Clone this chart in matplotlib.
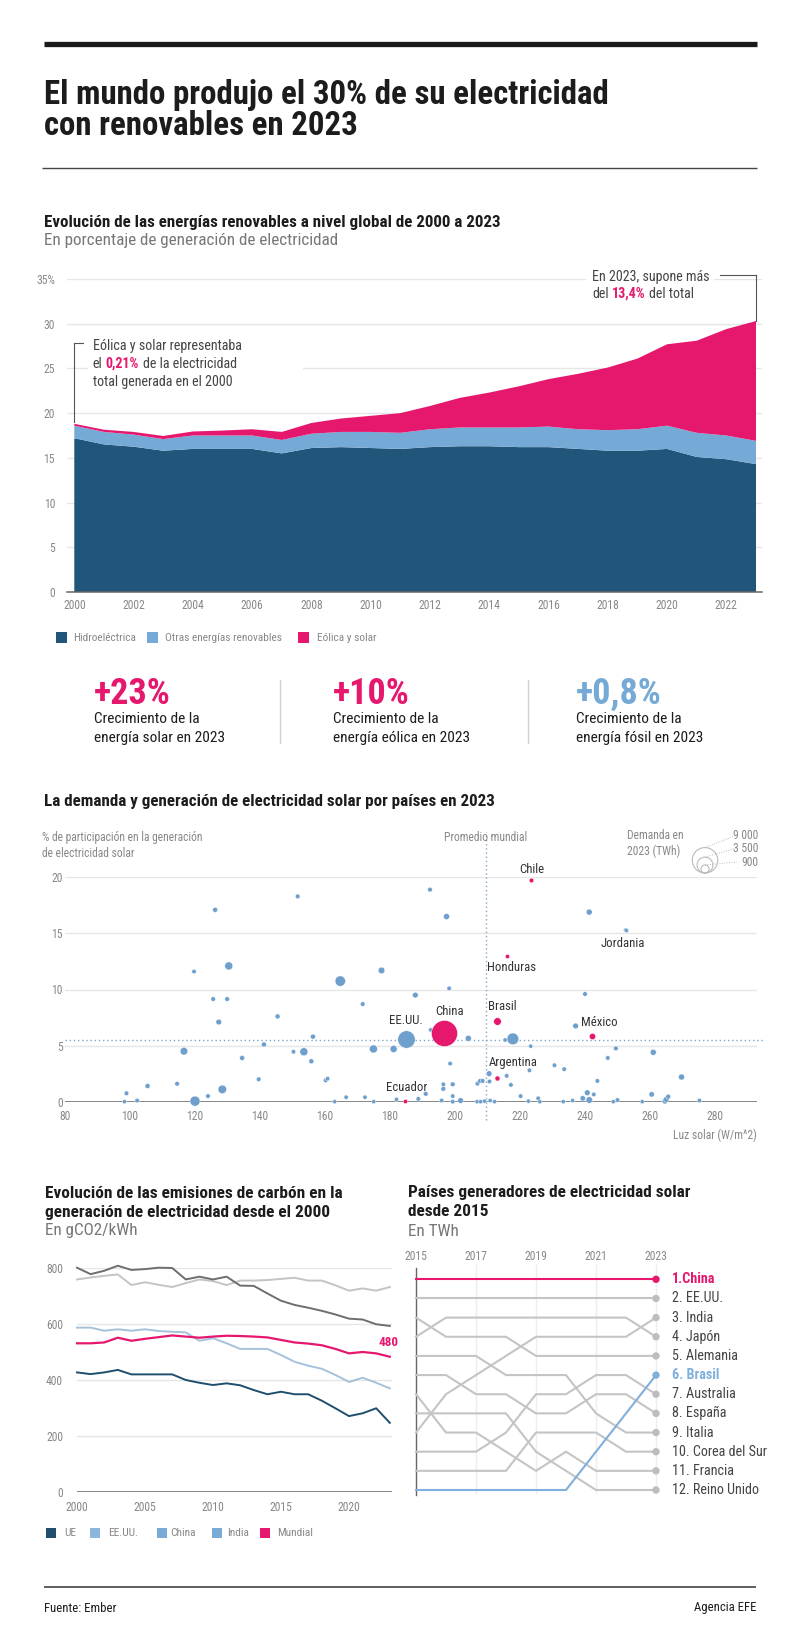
import matplotlib
matplotlib.use('Agg')
import matplotlib.pyplot as plt
from matplotlib import font_manager as fm
from matplotlib.patches import Rectangle, Circle
import numpy as np

# ---------------- DATA ----------------
years = list(range(2000, 2024))
hydro = [17.2, 16.5, 16.25, 15.8, 16.0, 16.0, 16.0, 15.5, 16.1, 16.2, 16.1, 16.0,
         16.2, 16.3, 16.3, 16.2, 16.2, 16.0, 15.8, 15.8, 16.0, 15.1, 14.85, 14.3]
other_renewables = [1.4, 1.4, 1.35, 1.3, 1.5, 1.5, 1.5, 1.5, 1.6, 1.7, 1.8, 1.8,
                    2.0, 2.1, 2.1, 2.2, 2.3, 2.2, 2.3, 2.4, 2.6, 2.7, 2.65, 2.6]
wind_solar = [0.21, 0.25, 0.3, 0.35, 0.45, 0.55, 0.7, 0.9, 1.2, 1.5, 1.8, 2.2,
              2.6, 3.3, 3.9, 4.6, 5.3, 6.2, 7.0, 7.9, 9.1, 10.3, 11.9, 13.4]
area_labels = ['Hidroeléctrica', 'Otras energías renovables', 'Eólica y solar']

stat_values = ['+23%', '+10%', '+0,8%']
stat_text = [('Crecimiento de la', 'energía solar en 2023'),
             ('Crecimiento de la', 'energía eólica en 2023'),
             ('Crecimiento de la', 'energía fósil en 2023')]

# scatter: sunlight (W/m^2), solar share (%), demand (TWh)
sun_light = [151.6, 126.2, 130.4, 119.7, 164.7, 177.4, 125.6, 129.9, 171.6, 145.4, 127.3,
             156.3, 141.2, 116.6, 153.5, 150.3, 174.9, 181.1, 134.5, 155.8, 139.6, 114.5,
             105.4, 98.9, 128.4, 124.0, 120.0, 102.2, 98.3, 160.2, 160.8, 166.5, 172.3,
             163.0, 175.0, 182.0,
             192.3, 197.4, 241.3, 252.5, 198.2, 187.8, 240.0, 237.1, 192.5, 204.1, 217.8,
             215.4, 223.3, 249.5, 261.0, 247.0, 198.5, 230.6, 233.6, 222.9, 210.5, 215.9,
             206.9, 207.7, 208.5, 210.6, 217.2, 196.4, 196.4, 199.3, 191.0, 188.7, 195.9,
             199.3, 199.3, 201.7, 206.8, 207.9, 209.1, 210.8, 212.2, 220.2, 222.6, 225.6,
             226.1, 233.3, 236.2, 239.3, 240.7, 241.3, 242.7, 243.8, 248.7, 250.0, 257.6,
             260.5, 264.6, 265.0, 265.6, 269.7, 275.2]
solar_share = [18.3, 17.1, 12.1, 11.6, 10.75, 11.7, 9.15, 9.15, 8.7, 7.6, 7.1,
               5.8, 5.1, 4.5, 4.45, 4.45, 4.7, 4.7, 3.9, 3.6, 2.0, 1.6,
               1.4, 0.75, 1.1, 0.5, 0.05, 0.1, 0.0, 1.9, 2.05, 0.4, 0.4,
               0.0, 0.0, 0.2,
               18.9, 16.5, 16.9, 15.3, 10.1, 9.5, 9.6, 6.75, 6.4, 5.65, 5.6,
               5.5, 4.95, 4.75, 4.4, 3.9, 3.4, 3.25, 2.9, 2.8, 2.5, 2.3,
               1.6, 1.85, 1.85, 1.8, 1.5, 1.55, 1.15, 1.55, 0.7, 0.25, 0.1,
               0.5, 0.0, 0.1, 0.0, 0.0, 0.05, 0.1, 0.0, 0.5, 0.05, 0.3,
               0.0, 0.0, 0.1, 0.3, 0.8, 0.15, 0.65, 1.85, 0.0, 0.15, 0.0,
               0.65, 0.05, 0.2, 0.45, 2.2, 0.1]
demand = [300, 350, 900, 280, 1500, 600, 300, 300, 300, 350, 450,
          350, 350, 800, 900, 280, 900, 700, 350, 350, 300, 300,
          350, 300, 1000, 280, 1400, 280, 250, 280, 280, 260, 260,
          250, 250, 260,
          300, 500, 500, 250, 280, 450, 300, 450, 250, 500, 1900,
          250, 250, 300, 500, 280, 280, 280, 280, 280, 450, 280,
          280, 300, 300, 280, 280, 280, 320, 320, 300, 280, 280,
          280, 280, 450, 250, 250, 250, 250, 250, 280, 250, 280,
          250, 250, 250, 400, 450, 600, 280, 280, 250, 280, 250,
          400, 450, 450, 320, 500, 280]
hl_names = ['EE.UU.', 'China', 'Chile', 'Honduras', 'Brasil', 'México', 'Argentina', 'Ecuador', 'Jordania']
hl_sun = [184.9, 196.7, 223.3, 215.9, 212.8, 242.1, 213.0, 184.6, 252.5]
hl_share = [5.55, 6.15, 19.75, 13.0, 7.2, 5.9, 2.1, 0.05, 15.3]
hl_demand = [4200, 9400, 300, 250, 800, 550, 350, 260, 250]
hl_pink = [False, True, True, True, True, True, True, True, False]
world_sun = 209.5
world_share = 5.5
size_legend = [9000, 3500, 900]

emis_years = list(range(2000, 2024))
emis_china = [800, 777, 789, 807, 792, 795, 800, 799, 758, 768, 758, 768,
              736, 735, 708, 682, 667, 657, 646, 633, 618, 615, 598, 592]
emis_india = [758, 765, 771, 776, 738, 748, 739, 731, 745, 758, 752, 738,
              754, 754, 756, 760, 764, 754, 754, 737, 718, 726, 718, 731]
emis_us = [586, 586, 575, 580, 575, 580, 574, 571, 569, 539, 548, 530,
           510, 510, 510, 488, 464, 450, 439, 417, 392, 407, 389, 369]
emis_world = [530, 530, 533, 550, 539, 546, 552, 558, 554, 550, 554, 557,
              556, 554, 551, 542, 533, 529, 523, 510, 494, 499, 494, 482]
emis_ue = [426, 420, 426, 435, 419, 419, 419, 419, 399, 389, 381, 387,
           380, 363, 348, 357, 348, 348, 325, 298, 270, 280, 298, 246]
emis_legend = ['UE', 'EE.UU.', 'China', 'India', 'Mundial']

rank_years = list(range(2015, 2024))
rank_countries = ['China', 'EE.UU.', 'India', 'Japón', 'Alemania', 'Brasil', 'Australia',
                  'España', 'Italia', 'Corea del Sur', 'Francia', 'Reino Unido']
rank_china = [1, 1, 1, 1, 1, 1, 1, 1, 1]
rank_us = [2, 2, 2, 2, 2, 2, 2, 2, 2]
rank_india = [9, 7, 6, 5, 4, 4, 4, 4, 3]
rank_japan = [4, 3, 3, 3, 3, 3, 3, 3, 4]
rank_germany = [3, 4, 4, 4, 5, 5, 5, 5, 5]
rank_brazil = [12, 12, 12, 12, 12, 12, 10, 8, 6]
rank_australia = [10, 10, 10, 9, 7, 7, 6, 6, 7]
rank_spain = [6, 6, 7, 7, 8, 8, 7, 7, 8]
rank_italy = [5, 5, 5, 6, 6, 6, 8, 9, 9]
rank_korea = [11, 11, 11, 11, 9, 9, 9, 10, 10]
rank_france = [7, 9, 9, 10, 11, 10, 11, 11, 11]
rank_uk = [8, 8, 8, 8, 10, 11, 12, 12, 12]

# ---------------- STYLE ----------------
names = {f.name for f in fm.fontManager.ttflist}
FONT = 'Liberation Sans'
for cand in ['Roboto Condensed', 'Liberation Sans Narrow', 'Archivo Narrow', 'Asap Condensed']:
    if cand in names:
        FONT = cand
        break
plt.rcParams['font.family'] = [FONT, 'DejaVu Sans']

C_HYDRO = '#21567a'
C_OTHER = '#76aad6'
PINK = '#e5186e'
BLUE = '#76aad6'
DARK = '#1c1c1c'
TXT = '#333333'
GRAY = '#888888'
GRID = '#e6e6e6'

W, H = 800, 1646
fig = plt.figure(figsize=(W / 100, H / 100), dpi=100)
fig.patch.set_facecolor('white')
R = fig.canvas.get_renderer()

ov = fig.add_axes([0, 0, 1, 1], zorder=20)
ov.set_xlim(0, W)
ov.set_ylim(H, 0)
ov.axis('off')


def add_ax(l, t, r, b):
    return fig.add_axes([l / W, 1 - b / H, (r - l) / W, (b - t) / H])


def fit(s, w, weight='normal'):
    t = ov.text(0, 0, s, fontsize=10, fontweight=weight)
    bw = t.get_window_extent(R).width
    t.remove()
    return 10.0 * w / bw


def T(x, y, s, size, color=TXT, weight='normal', ha='left', va='center', **kw):
    return ov.text(x, y, s, fontsize=size, color=color, fontweight=weight,
                   ha=ha, va=va, **kw)


def rich(x, y, parts, size):
    s, c, w = parts[0]
    t = T(x, y, s, size, c, w)
    gap = 0.24 * size / 0.72
    for s, c, w in parts[1:]:
        t = ov.annotate(s, xy=(1, 0), xycoords=t, xytext=(gap, 0),
                        textcoords='offset pixels', fontsize=size, color=c,
                        fontweight=w, va='bottom', ha='left')
    return t


def hline(x0, x1, y, color, lw):
    ov.plot([x0, x1], [y, y], color=color, lw=lw, solid_capstyle='butt')


# ---------------- HEADER ----------------
hline(44, 757, 44, '#1a1a1a', 3.8)
TS = fit('El mundo produjo el 30% de su electricidad', 566, 'bold')
T(44, 95, 'El mundo produjo el 30% de su electricidad', TS, DARK, 'bold')
T(44, 126, 'con renovables en 2023', TS, DARK, 'bold')
hline(42, 757, 168, '#444444', 1.0)

S1 = fit('Evolución de las energías renovables a nivel global de 2000 a 2023', 457, 'bold')
T(44, 222, 'Evolución de las energías renovables a nivel global de 2000 a 2023', S1, DARK, 'bold')
SUB = fit('En porcentaje de generación de electricidad', 293)
T(44, 240, 'En porcentaje de generación de electricidad', SUB, '#777777')

TICK = fit('2000', 22.7)

# ---------------- AREA CHART ----------------
ax1 = add_ax(67, 279, 762, 592)
ax1.stackplot(years, hydro, other_renewables, wind_solar,
              colors=[C_HYDRO, C_OTHER, PINK], lw=0, zorder=2)
ax1.set_xlim(2000 - 7.3 / 29.64, 2023 + 6 / 29.64)
ax1.set_ylim(0, 35)
yt = list(range(0, 36, 5))
ax1.set_yticks(yt)
ax1.set_yticklabels([str(v) if v < 35 else f'{v}%' for v in yt])
ax1.set_xticks(list(range(2000, 2023, 2)))
ax1.yaxis.grid(True, color=GRID, lw=1)
ax1.set_axisbelow(True)
for sp in ['left', 'right', 'top']:
    ax1.spines[sp].set_visible(False)
ax1.spines['bottom'].set_color('#666666')
ax1.spines['bottom'].set_linewidth(1.1)
ax1.spines['bottom'].set_zorder(5)
ax1.tick_params(axis='both', length=0, labelsize=TICK, labelcolor=GRAY)
ax1.tick_params(axis='x', pad=4.7)
ax1.tick_params(axis='y', pad=8.6)

total = np.array(hydro) + np.array(other_renewables) + np.array(wind_solar)
ax1.plot([years[0], years[0]], [total[0] + 0.2, 27.8], color='#555555', lw=0.8, clip_on=False, zorder=6)
ax1.plot([years[0], years[0] + 0.3], [27.8, 27.8], color='#555555', lw=0.8, clip_on=False, zorder=6)
ax1.plot([years[-1], years[-1]], [total[-1], 35.45], color='#555555', lw=0.8, clip_on=False, zorder=6)
ax1.plot([2021.8, years[-1]], [35.45, 35.45], color='#555555', lw=0.8, clip_on=False, zorder=6)

ANN = fit('Eólica y solar representaba', 149)
ov.add_patch(Rectangle((88, 335), 215, 56, fc='white', ec='none', zorder=1))
ov.add_patch(Rectangle((586, 266), 128, 37, fc='white', ec='none', zorder=1))
T(92.7, 346, 'Eólica y solar representaba', ANN, '#444444')
rich(92.7, 364, [('el', '#444444', 'normal'), ('0,21%', PINK, 'bold'),
                 ('de la electricidad', '#444444', 'normal')], ANN)
T(92.7, 381.5, 'total generada en el 2000', ANN, '#444444')
T(592, 277, 'En 2023, supone más', ANN, '#444444')
rich(592, 294, [('del', '#444444', 'normal'), ('13,4%', PINK, 'bold'),
                ('del total', '#444444', 'normal')], ANN)

LEG = fit('Hidroeléctrica', 63)
for (sx, tx), lab, col in zip([(56, 73), (147, 165), (298, 317)], area_labels,
                              [C_HYDRO, C_OTHER, PINK]):
    ov.add_patch(Rectangle((sx, 632), 11, 11, fc=col, ec='none'))
    T(tx, 637.5, lab, LEG, GRAY)

# ---------------- STATS ----------------
BIG = fit('+23%', 77, 'bold')
ST = fit('energía solar en 2023', 130)
for x0, val, (l1, l2), col in zip([94, 333, 576], stat_values, stat_text, [PINK, PINK, BLUE]):
    T(x0, 694, val, BIG, col, 'bold')
    T(x0, 719, l1, ST, DARK)
    T(x0, 738, l2, ST, DARK)
for xd in [280, 527.6]:
    ov.plot([xd, xd], [680, 743], color='#d0d0d0', lw=1)

# ---------------- SCATTER ----------------
S2 = fit('La demanda y generación de electricidad solar por países en 2023', 452, 'bold')
T(44, 801, 'La demanda y generación de electricidad solar por países en 2023', S2, DARK, 'bold')

K = 0.134


def msize(d):
    r = K * np.sqrt(np.asarray(d, dtype=float))
    return (2 * r * 0.72) ** 2


ax2 = add_ax(65, 877.3, 757, 1101.7)
ax2.set_xlim(80, 80 + 692 / 3.25)
ax2.set_ylim(0, 20)
ax2.set_xticks(list(range(80, 281, 20)))
ax2.set_yticks(list(range(0, 21, 5)))
ax2.yaxis.grid(True, color=GRID, lw=1)
ax2.set_axisbelow(True)
for sp in ax2.spines.values():
    sp.set_visible(False)
ax2.tick_params(axis='both', length=0, labelsize=TICK, labelcolor=GRAY)
ax2.tick_params(axis='x', pad=5.8)
ax2.tick_params(axis='y', pad=1.5)
ax2.axhline(0, color='#666666', lw=1.1, zorder=1)
ax2.axvline(world_sun, ymin=-0.08, ymax=1.2, color='#7fa6c9', lw=1, ls=(0, (1, 2)), clip_on=False, zorder=1)
ax2.axhline(world_share, xmin=0, xmax=1.01, color='#7fa6c9', lw=1, ls=(0, (1, 2)), clip_on=False, zorder=1)
ax2.scatter(sun_light, solar_share, s=msize(demand), color='#6e9fcd', edgecolors='white',
            linewidths=0.3, clip_on=False, zorder=3)
for nm, xs, ys, dd, pk in zip(hl_names, hl_sun, hl_share, hl_demand, hl_pink):
    ax2.scatter([xs], [ys], s=msize([dd]), color=PINK if pk else '#6e9fcd',
                edgecolors='white', linewidths=0.3, clip_on=False, zorder=4)

LBL = fit('Honduras', 49)
lab_off = {'Chile': (1, 11, 'center'), 'Jordania': (-3, -13, 'center'),
           'Honduras': (-20, -12, 'left'), 'Brasil': (-9, 14, 'left'),
           'China': (5, 21, 'center'), 'EE.UU.': (0, 19, 'center'),
           'México': (-11, 13.5, 'left'), 'Argentina': (-8, 16, 'left'),
           'Ecuador': (-19, 14, 'left')}
for nm, xs, ys in zip(hl_names, hl_sun, hl_share):
    dx, dy, ha = lab_off[nm]
    ax2.annotate(nm, xy=(xs, ys), xytext=(dx, dy), textcoords='offset pixels',
                 ha=ha, va='center', fontsize=LBL, color='#333333', zorder=6)

SM = fit('Promedio mundial', 83)
T(42, 837, '% de participación en la generación', SM, GRAY)
T(42, 853, 'de electricidad solar', SM, GRAY)
ax2.annotate('Promedio mundial', xy=(world_sun, 1), xycoords=('data', 'axes fraction'),
             xytext=(0, 40), textcoords='offset pixels', ha='center', va='center',
             fontsize=SM, color=GRAY)
T(757, 1135, 'Luz solar (W/m^2)', SM, GRAY, ha='right')
T(627, 835, 'Demanda en', SM, GRAY)
T(627, 851, '2023 (TWh)', SM, GRAY)
lab_y = [835, 848, 862]
for dv, ly in zip(size_legend, lab_y):
    r = K * np.sqrt(dv)
    ov.add_patch(Circle((705, 873 - r), r, fill=False, ec='#bbbbbb', lw=0.8))
    ov.plot([705, 737], [873 - 2 * r, ly], color='#bbbbbb', lw=0.7, ls=(0, (1, 1.5)))
    T(758, ly, f'{dv:,}'.replace(',', ' '), SM, GRAY, ha='right')

# ---------------- LINE CHART ----------------
S3 = fit('Evolución de las emisiones de carbón en la', 296, 'bold')
T(45, 1193, 'Evolución de las emisiones de carbón en la', S3, DARK, 'bold')
T(45, 1212, 'generación de electricidad desde el 2000', S3, DARK, 'bold')
T(45, 1231, 'En gCO2/kWh', SUB, '#777777')

ax3 = add_ax(77, 1267.7, 392, 1491.7)
ax3.set_xlim(2000, 2000 + 315 / 13.6)
ax3.set_ylim(0, 800)
ax3.set_yticks(list(range(0, 801, 200)))
ax3.set_xticks(list(range(2000, 2021, 5)))
ax3.yaxis.grid(True, color=GRID, lw=1)
ax3.set_axisbelow(True)
for sp in ax3.spines.values():
    sp.set_visible(False)
ax3.tick_params(axis='both', length=0, labelsize=TICK, labelcolor=GRAY)
ax3.tick_params(axis='x', pad=6.5)
ax3.tick_params(axis='y', pad=10)
ax3.axhline(0, color='#666666', lw=1.1)
ax3.plot(emis_years, emis_india, color='#c4c4c4', lw=1.4, clip_on=False)
ax3.plot(emis_years, emis_china, color='#6e6e6e', lw=1.4, clip_on=False)
ax3.plot(emis_years, emis_us, color='#a6c2da', lw=1.4, clip_on=False)
ax3.plot(emis_years, emis_ue, color='#1f4e6e', lw=1.4, clip_on=False)
ax3.plot(emis_years, emis_world, color=PINK, lw=1.6, clip_on=False)
ax3.annotate(f'{round(emis_world[-1], -1):.0f}', xy=(emis_years[-1], emis_world[-1]),
             xytext=(-1, 14), textcoords='offset pixels', ha='center', va='center',
             fontsize=fit('480', 20, 'bold'), color=PINK, fontweight='bold')

LEG2 = fit('Mundial', 36)
for sx, tx, lab, col in zip([46, 90, 157, 212, 260], [64, 108, 170, 227, 277], emis_legend,
                            ['#1f4e6e', '#8db6dc', '#7aaad6', '#7aaad6', PINK]):
    ov.add_patch(Rectangle((sx, 1528), 10, 10, fc=col, ec='none'))
    T(tx, 1533, lab, LEG2, GRAY)

# ---------------- BUMP CHART ----------------
T(408, 1193, 'Países generadores de electricidad solar', S3, DARK, 'bold')
T(408, 1212, 'desde 2015', S3, DARK, 'bold')
T(408, 1231, 'En TWh', SUB, '#777777')

ax4 = add_ax(416, 1279.3, 656, 1490)
ax4.set_xlim(2015, 2023)
ax4.set_ylim(12, 1)
for sp in ax4.spines.values():
    sp.set_visible(False)
ax4.set_yticks([])
ax4.xaxis.tick_top()
ax4.set_xticks(list(range(2015, 2024, 2)))
ax4.tick_params(axis='x', length=0, labelsize=TICK, labelcolor=GRAY, pad=11.5)
for yr in [2017, 2019, 2021, 2023]:
    ax4.axvline(yr, ymin=-0.014, ymax=1.068, color='#eeeeee', lw=1, clip_on=False, zorder=0)
ax4.axvline(2015, ymin=-0.024, ymax=1.054, color='#666666', lw=1, clip_on=False, zorder=1)

all_ranks = [rank_china, rank_us, rank_india, rank_japan, rank_germany, rank_brazil,
             rank_australia, rank_spain, rank_italy, rank_korea, rank_france, rank_uk]
BL = fit('12. Reino Unido', 87)
for name, rk in zip(rank_countries, all_ranks):
    col, z, wgt = '#c4c4c4', 2, 'normal'
    tcol = '#444444'
    if name == 'China':
        col, z, wgt, tcol = PINK, 4, 'bold', PINK
    elif name == 'Brasil':
        col, z, wgt, tcol = '#7fb0dc', 3, 'bold', '#7fb0dc'
    ax4.plot(rank_years, rk, color=col, lw=1.5, zorder=z, clip_on=False)
    ax4.scatter([rank_years[-1]], [rk[-1]], s=28, color=col if col != '#c4c4c4' else '#bdbdbd',
                zorder=z + 1, clip_on=False, edgecolors='none')
    label = f'{rk[-1]}.{name}' if name == 'China' else f'{rk[-1]}. {name}'
    ax4.annotate(label, xy=(rank_years[-1], rk[-1]), xytext=(16, 0), textcoords='offset pixels',
                 ha='left', va='center', fontsize=BL, color=tcol, fontweight=wgt)

# ---------------- FOOTER ----------------
hline(44, 756, 1587, '#333333', 1.1)
FT = fit('Fuente: Ember', 72)
T(44, 1608, 'Fuente: Ember', FT, DARK)
T(756, 1608, 'Agencia EFE', FT, DARK, ha='right')

fig.savefig('out.png', dpi=100, facecolor='white')
